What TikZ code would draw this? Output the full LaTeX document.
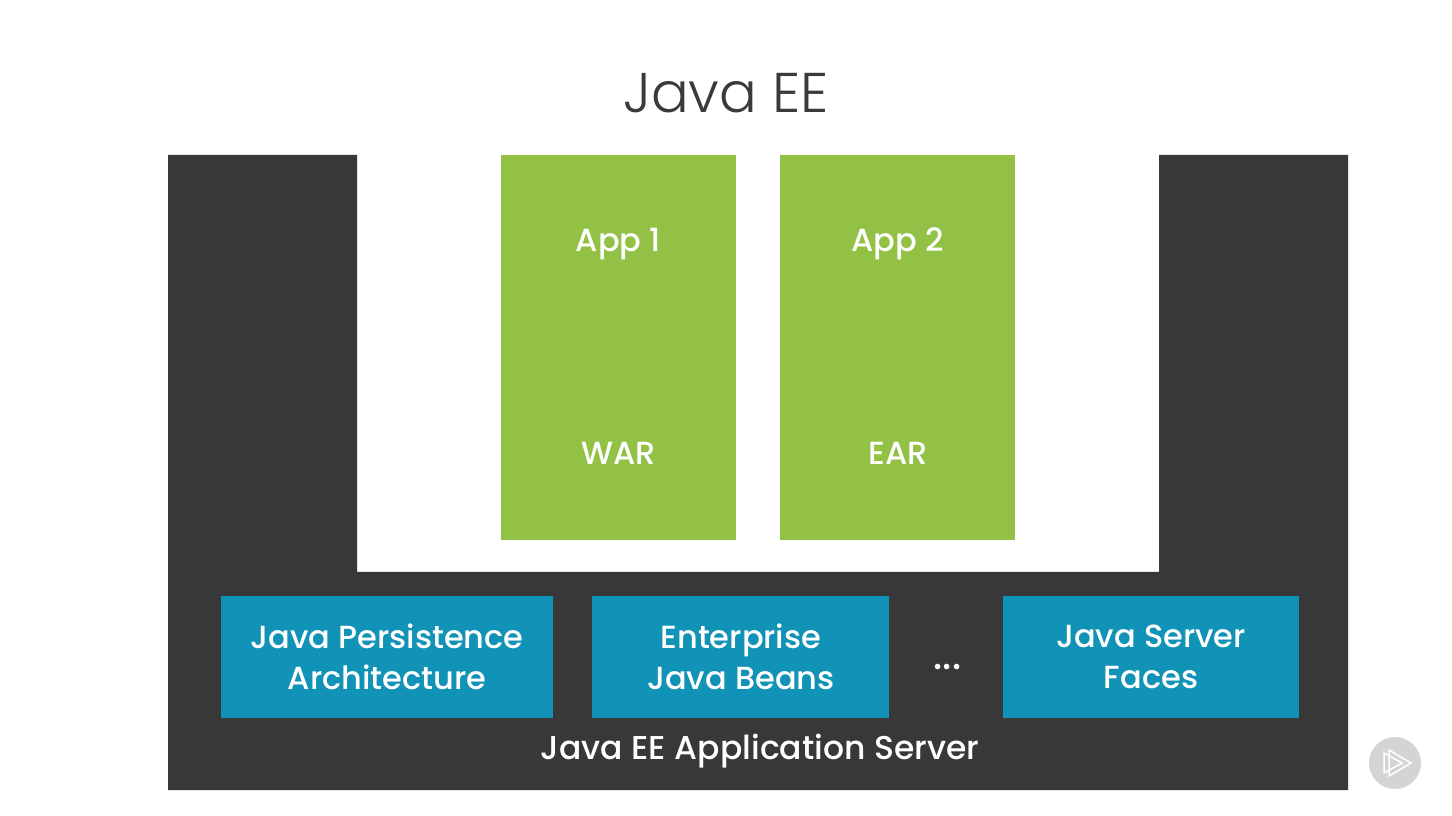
\documentclass[tikz,border=0pt]{standalone}
\usepackage{fontspec}
\setmainfont{Poppins Medium}
\newfontfamily\titlefont{Poppins Light}
\usetikzlibrary{positioning}
\definecolor{serverdark}{HTML}{383838}
\definecolor{appgreen}{HTML}{92C146}
\definecolor{specblue}{HTML}{1192B7}
\definecolor{badgegray}{HTML}{D4D4D4}
\definecolor{titlegray}{HTML}{3A3A3A}
\tikzset {
  app box/.style = {
    fill = appgreen,
    minimum width = 235pt,
    minimum height = 385pt,
    inner sep = 0
  },
  % blue boxes inside the server
  spec box/.style = {
    fill = specblue,
    text = white,
    align = center,
    minimum height = 122pt,
    inner sep = 0,
    font = \fontsize{32}{41}\selectfont
  },
  box label/.style = {
    text = white,
    inner sep = 0,
    font = \fontsize{32}{36}\selectfont
  },
  node distance = 44pt
}
\begin{document}
\begin{tikzpicture}[x=1pt,y=1pt]
    \useasboundingbox (0,0) rectangle (1452,815);

    % server, with the gap for the apps
    \fill[serverdark] (168,660) -- (357,660) -- (357,243) -- (1159,243)
    -- (1159,660) -- (1348,660) -- (1348,25) -- (168,25) -- cycle;

    \node[font=\titlefont\fontsize{56}{60}\selectfont, text=titlegray, inner sep=0] (title)
    at (726,722) {Java EE};

    \node[app box] (app1) at (618.5,467.5) {};
    \node[app box] (app2) [right=of app1] {};
    \node[box label] (app1-name) [below=73pt of app1.north] {App 1};
    \node[box label] (app2-name) [below=73pt of app2.north] {App 2};
    \node[box label] (war) [above=75pt of app1.south] {WAR};
    \node[box label] (ear) [above=75pt of app2.south] {EAR};

    \node[spec box, minimum width=332pt] (jpa) at (387,158) {Java Persistence\\Architecture};
    \node[spec box, minimum width=297pt] (ejb) [right=39pt of jpa] {Enterprise\\Java Beans};
    \node[box label, font=\fontsize{38}{38}\selectfont] (more) [right=44pt of ejb, yshift=-10pt] {...};
    \node[spec box, minimum width=296pt] (jsf) at (1151,158) {Java Server\\Faces};
    \node[box label, font=\fontsize{33}{36}\selectfont] (server) at (760,64) {Java EE Application Server};

    % player badge
    \node[fill=badgegray, circle, minimum size=52pt, inner sep=0] (badge) at (1395,52) {};
    \draw[white, line width=1.5pt] (1384,62) -- (1402,52) -- (1384,42) -- cycle;
    \draw[white, line width=1.5pt] (1389,65) -- (1411,52) -- (1389,39) -- cycle;
\end{tikzpicture}
\end{document}
